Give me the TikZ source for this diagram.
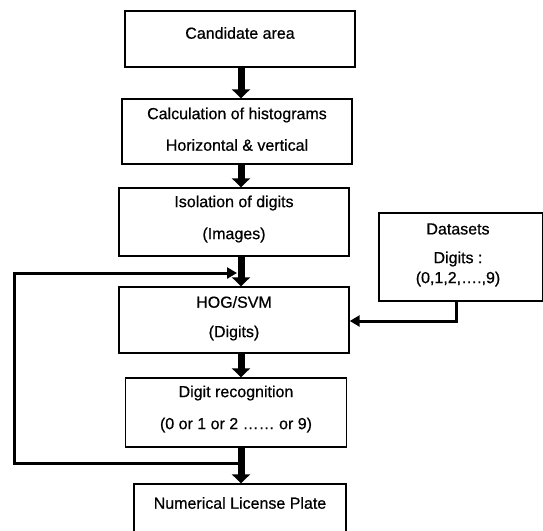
\documentclass[tikz,border=0pt]{standalone}
\usepackage{fontspec}
\setmainfont{Liberation Sans}
\newfontfamily\boxfont{Liberation Sans}[FakeBold=0.6]
\usetikzlibrary{arrows.meta}
\begin{document}
\begin{tikzpicture}[x=1pt,y=-1pt,
  box/.style={draw, line width=1.4pt, inner sep=0pt},
  txt/.style={inner sep=0pt, font=\boxfont\fontsize{16}{18}\selectfont},
  bigarrow/.style={line width=7pt, -{Triangle[width=18pt,length=9pt]}},
  thinarrow/.style={line width=3pt, -{Triangle[width=11pt,length=10pt]}}]
\useasboundingbox[fill=white] (0,0) rectangle (543,530);
% boxes
\node[box, minimum width=230pt, minimum height=56pt] (b1) at (240,39) {};
\node[box, minimum width=230pt, minimum height=65pt] (b2) at (237,131.5) {};
\node[box, minimum width=230pt, minimum height=68pt] (b3) at (234,222) {};
\node[box, minimum width=164pt, minimum height=88pt] (ds) at (461,257) {};
\node[box, minimum width=230pt, minimum height=66pt] (b4) at (234,320) {};
\node[box, minimum width=221pt, minimum height=69pt] (b5) at (236,412.5) {};
\node[box, minimum width=212pt, minimum height=60pt] (b6) at (240,514) {};
% texts
\node[txt] (t1) at (240,33) {Candidate area};
\node[txt] (t2a) at (237,115) {Calculation of histograms};
\node[txt] (t2b) at (237,145) {Horizontal \& vertical};
\node[txt] (t3a) at (234,203) {Isolation of digits};
\node[txt] (t3b) at (234,235) {(Images)};
\node[txt] (tda) at (458,229) {Datasets};
\node[txt] (tdb) at (458,259) {Digits :};
\node[txt] (tdc) at (458,279) {(0,1,2,….,9)};
\node[txt] (t4a) at (234,302) {HOG/SVM};
\node[txt] (t4b) at (234,333) {(Digits)};
\node[txt] (t5a) at (236,393) {Digit recognition};
\node[txt] (t5b) at (236,425) {(0 or 1 or 2 …… or 9)};
\node[txt] (t6) at (240,503) {Numerical License Plate};
% arrow column
\coordinate (ax) at (241,0);
\draw[bigarrow] (b1.south -| ax) -- (b2.north -| ax);
\draw[bigarrow] (b2.south -| ax) -- (b3.north -| ax);
\draw[bigarrow] (b3.south -| ax) -- (b4.north -| ax);
\draw[bigarrow] (b4.south -| ax) -- (b5.north -| ax);
\draw[bigarrow] (b5.south -| ax) -- (b6.north -| ax);
% feedback loop
\coordinate (fbr) at (241,463);
\coordinate (fbl) at (14,463);
\coordinate (fbt) at (14,273);
\coordinate (fbe) at (237,273);
\draw[thinarrow] (fbr) -- (fbl) -- (fbt) -- (fbe);
% dataset arrow
\coordinate (dsc) at (456,321);
\draw[thinarrow] (ds.south -| dsc) -- (dsc) -- (dsc -| b4.east);
\end{tikzpicture}
\end{document}
